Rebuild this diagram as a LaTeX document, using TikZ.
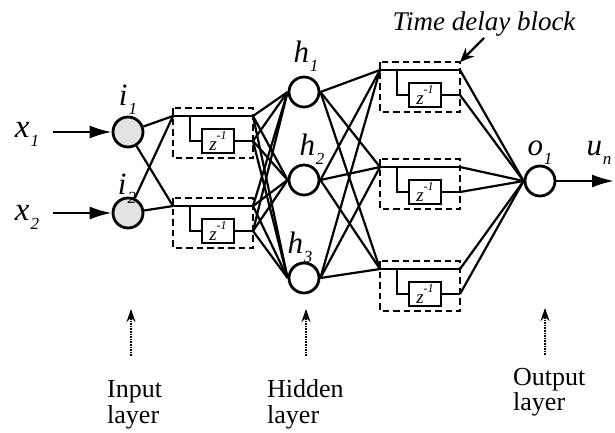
\documentclass[tikz,border=0pt]{standalone}
\usepackage{fontspec}
\setmainfont{Liberation Serif}
\usetikzlibrary{arrows.meta}

% italic symbol with a lowered italic index
\newcommand\idx[3][17]{\textit{#2}\kern0.03em\raisebox{-0.3em}{\fontsize{#1}{#1}\selectfont\textit{#3}}}
% delay operator z^{-1}
\newcommand\zinv{\fontsize{19}{19}\selectfont\textit{z}\raisebox{0.55em}{\fontsize{12}{12}\selectfont -\textit{1}}}

\tikzset{
  wire/.style={line width=2.2pt},
  neuron/.style={circle, draw, line width=2.8pt, minimum size=30pt, inner sep=0pt},
  inneuron/.style={neuron, fill=gray!22},
  dbox/.style={draw, line width=2.2pt, dash pattern=on 6.5pt off 4pt},
  zbox/.style={draw, line width=2.2pt, minimum width=32pt, minimum height=24pt, inner sep=0pt},
  sym/.style={font=\fontsize{31}{33}\selectfont, inner sep=0pt, anchor=base},
  laycap/.style={font=\fontsize{26}{28}\selectfont, inner sep=0pt, anchor=base west},
  bigarrow/.style={wire, -{Latex[length=22pt,width=13pt]}},
  pointer/.style={line width=1.6pt, densely dotted, -{Stealth[length=13pt,width=9pt]}},
  delay/.pic={
    \draw[dbox] (0,0) rectangle (80,50);
    \coordinate (-in) at (0,8);
    \coordinate (-top) at (80,8);
    \coordinate (-dly) at (80,33);
    \coordinate (-ne) at (80,0);
    \node[zbox] (-z) at (45,33) {\zinv};
    \draw[wire] (-in) -- (-top);
    \draw[wire] (17,8) |- (-z.west);
    \draw[wire] (-z.east) -- (-dly);
  }
}

\begin{document}
\begin{tikzpicture}[x=1pt,y=-1pt]
\useasboundingbox (0,0) rectangle (615,432);

% neurons
\node[inneuron] (i1) at (128,132) {};
\node[inneuron] (i2) at (128,213) {};
\node[neuron] (h1) at (304,92) {};
\node[neuron] (h2) at (304,180) {};
\node[neuron] (h3) at (304,278) {};
\node[neuron] (o1) at (540,181) {};

% time delay blocks
\pic (A) at (173,108) {delay};
\pic (B) at (173,198) {delay};
\pic (C) at (380,62) {delay};
\pic (D) at (380,159) {delay};
\pic (E) at (380,261) {delay};

% neuron labels
\node[sym, font=\fontsize{33}{35}\selectfont] (lx1) at (27,137) {\idx{x}{1}};
\node[sym, font=\fontsize{33}{35}\selectfont] (lx2) at (27,220) {\idx{x}{2}};
\node[sym] (li1) at (128,105) {\idx{i}{1}};
\node[sym] (li2) at (127,194) {\idx{i}{2}};
\node[sym] (lh1) at (306,62) {\idx{h}{1}};
\node[sym] (lh2) at (312,155) {\idx{h}{2}};
\node[sym] (lh3) at (300,253) {\idx{h}{3}};
\node[sym] (lo1) at (540,155) {\idx{o}{1}};
\node[sym] (lun) at (599,155) {\idx{u}{n}};

% inputs and output
\coordinate (x1s) at (53,132);
\coordinate (x2s) at (53,213);
\coordinate (une) at (614,181);
\draw[bigarrow] (x1s) -- (i1.west);
\draw[bigarrow] (x2s) -- (i2.west);
\draw[bigarrow] (o1.east) -- (une);

% input layer to its delay blocks
\foreach \n in {i1,i2}
  \foreach \b in {A,B}
    \draw[wire] (\n) -- (\b-in);

% input delay blocks to hidden layer
\foreach \b in {A,B}
  \foreach \o in {top,dly}
    \foreach \h in {h1,h2,h3}
      \draw[wire] (\b-\o) -- (\h.west);

% hidden layer to output delay blocks
\foreach \h in {h1,h2,h3}
  \foreach \b in {C,D,E}
    \draw[wire] (\h.east) -- (\b-in);

% output delay blocks to output neuron
\foreach \b in {C,D,E}
  \foreach \o in {top,dly}
    \draw[wire] (\b-\o) -- (o1.west);

% block caption
\node[font=\fontsize{27}{29}\selectfont\itshape, inner sep=0pt, anchor=base] (tdb) at (484,30) {Time delay block};
\coordinate (tdt) at (484,38);
\draw[line width=2.2pt, -{Stealth[length=14pt,width=12pt]}] (tdt) -- (C-ne);

% layer captions
\coordinate (pi0) at (131,356); \coordinate (pi1) at (131,309);
\coordinate (ph0) at (306,356); \coordinate (ph1) at (306,309);
\coordinate (po0) at (545,355); \coordinate (po1) at (545,308);
\draw[pointer] (pi0) -- (pi1);
\draw[pointer] (ph0) -- (ph1);
\draw[pointer] (po0) -- (po1);

\node[laycap] (in1) at (107,397) {Input};
\node[laycap] (in2) at (107,423) {layer};
\node[laycap] (hd1) at (267,397) {Hidden};
\node[laycap] (hd2) at (267,423) {layer};
\node[laycap] (ou1) at (513,385) {Output};
\node[laycap] (ou2) at (513,410) {layer};
\end{tikzpicture}
\end{document}
